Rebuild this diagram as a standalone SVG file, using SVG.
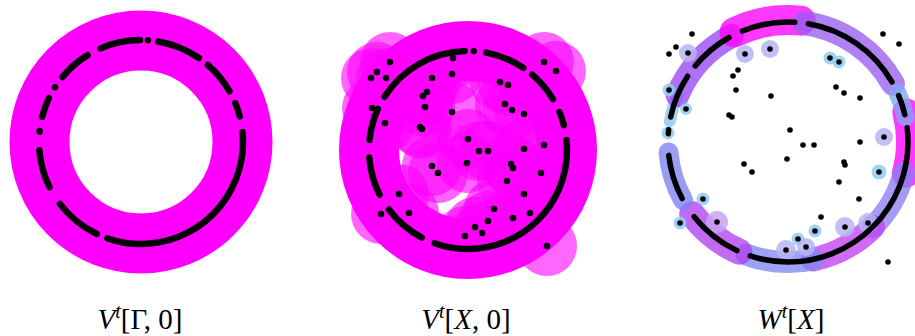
<svg xmlns="http://www.w3.org/2000/svg" width="915" height="336" viewBox="0 0 915 336">
<style>
.ring{fill:none;stroke:#ff00ff;stroke-width:60}
.dash{fill:none;stroke:#000;stroke-linecap:round}
.halo circle{fill:#ff00ff;fill-opacity:0.6}
.pts circle{fill:#000}
.band path{fill:none;stroke-linecap:round;stroke-opacity:0.78}
.hb{fill:#8fcbf2;fill-opacity:0.85}
.hl{fill:#b6b4f2;fill-opacity:0.85}
.lbl{font-family:"Liberation Serif","Times New Roman",serif;font-size:29px;fill:#000}
.it{font-style:italic}
</style>
<rect width="915" height="336" fill="#fff"/>

<g id="panel-gamma">
<circle class="ring" cx="141" cy="142" r="101.5"/>
<path class="dash" d="M243 142 A102 102 0 1 1 39 142 A102 102 0 1 1 243 142" stroke-width="6.5" stroke-dasharray="205.4 11.4 47.9 19.6 38.5 18.9 0.7 14.2 19.8 12.5 0.01 12.5 33.5 14.6 40.6 8 0.01 10.1 44.3 11.4 34 13.2 13.9 16" stroke-dashoffset="11.2"/>
</g>

<g id="panel-x">
<g class="halo">
<circle cx="390" cy="62" r="30"/><circle cx="377" cy="72" r="30"/><circle cx="371" cy="78" r="30"/><circle cx="386" cy="78" r="30"/>
<circle cx="432" cy="78" r="30"/><circle cx="453" cy="58" r="30"/><circle cx="452" cy="74" r="30"/><circle cx="427" cy="92" r="30"/>
<circle cx="423" cy="96" r="30"/><circle cx="372" cy="108" r="30"/><circle cx="425" cy="107" r="30"/><circle cx="452" cy="112" r="30"/>
<circle cx="385" cy="123" r="30"/><circle cx="420" cy="127" r="30"/><circle cx="422" cy="129" r="30"/><circle cx="468" cy="139" r="30"/>
<circle cx="544" cy="62" r="30"/><circle cx="556" cy="71" r="30"/><circle cx="500" cy="82" r="30"/><circle cx="508" cy="85" r="30"/>
<circle cx="505" cy="104" r="30"/><circle cx="512" cy="110" r="30"/><circle cx="524" cy="114" r="30"/><circle cx="479" cy="151" r="30"/>
<circle cx="488" cy="151" r="30"/><circle cx="524" cy="149" r="30"/><circle cx="544" cy="145" r="30"/><circle cx="467" cy="163" r="30"/>
<circle cx="511" cy="164" r="30"/><circle cx="513" cy="168" r="30"/><circle cx="541" cy="173" r="30"/><circle cx="507" cy="181" r="30"/>
<circle cx="524" cy="194" r="30"/><circle cx="494" cy="209" r="30"/><circle cx="513" cy="218" r="30"/><circle cx="530" cy="213" r="30"/>
<circle cx="488" cy="221" r="30"/><circle cx="475" cy="227" r="30"/><circle cx="482" cy="233" r="30"/><circle cx="465" cy="236" r="30"/>
<circle cx="547" cy="246" r="30"/><circle cx="432" cy="166" r="30"/><circle cx="438" cy="173" r="30"/><circle cx="399" cy="194" r="30"/>
<circle cx="381" cy="214" r="30"/><circle cx="409" cy="213" r="30"/>
</g>
<circle class="ring" cx="468" cy="150" r="99"/>
<path class="dash" d="M567 150 A99 99 0 1 1 369 150 A99 99 0 1 1 567 150" stroke-width="6.5" stroke-dasharray="200.3 14 43.4 17.6 38.5 18 32.1 13.7 95.9 9.2 0.01 12.3 40.4 11.2 32.1 14.5 13.7 15.2" stroke-dashoffset="10.9"/>
<g class="pts">
<circle cx="390" cy="62" r="3.3"/><circle cx="377" cy="72" r="3.3"/><circle cx="371" cy="78" r="3.3"/><circle cx="386" cy="78" r="3.3"/>
<circle cx="432" cy="78" r="3.3"/><circle cx="453" cy="58" r="3.3"/><circle cx="452" cy="74" r="3.3"/><circle cx="427" cy="92" r="3.3"/>
<circle cx="423" cy="96" r="3.3"/><circle cx="372" cy="108" r="3.3"/><circle cx="425" cy="107" r="3.3"/><circle cx="452" cy="112" r="3.3"/>
<circle cx="385" cy="123" r="3.3"/><circle cx="420" cy="127" r="3.3"/><circle cx="422" cy="129" r="3.3"/><circle cx="468" cy="139" r="3.3"/>
<circle cx="544" cy="62" r="3.3"/><circle cx="556" cy="71" r="3.3"/><circle cx="500" cy="82" r="3.3"/><circle cx="508" cy="85" r="3.3"/>
<circle cx="505" cy="104" r="3.3"/><circle cx="512" cy="110" r="3.3"/><circle cx="524" cy="114" r="3.3"/><circle cx="479" cy="151" r="3.3"/>
<circle cx="488" cy="151" r="3.3"/><circle cx="524" cy="149" r="3.3"/><circle cx="544" cy="145" r="3.3"/><circle cx="467" cy="163" r="3.3"/>
<circle cx="511" cy="164" r="3.3"/><circle cx="513" cy="168" r="3.3"/><circle cx="541" cy="173" r="3.3"/><circle cx="507" cy="181" r="3.3"/>
<circle cx="524" cy="194" r="3.3"/><circle cx="494" cy="209" r="3.3"/><circle cx="513" cy="218" r="3.3"/><circle cx="530" cy="213" r="3.3"/>
<circle cx="488" cy="221" r="3.3"/><circle cx="475" cy="227" r="3.3"/><circle cx="482" cy="233" r="3.3"/><circle cx="465" cy="236" r="3.3"/>
<circle cx="547" cy="246" r="3.3"/><circle cx="432" cy="166" r="3.3"/><circle cx="438" cy="173" r="3.3"/><circle cx="399" cy="194" r="3.3"/>
<circle cx="381" cy="214" r="3.3"/><circle cx="409" cy="213" r="3.3"/>
</g>
</g>

<g id="panel-w">
<g class="band">
<path d="M906.4 112.5 A122 122 0 0 1 905.8 173.6" stroke="#ff00ff" stroke-width="28"/>
<path d="M903.9 173.1 A120 120 0 0 1 872.9 226.9" stroke="#8c7ff2" stroke-width="22"/>
<path d="M872.9 226.9 A120 120 0 0 1 812.9 259.4" stroke="#c040f2" stroke-width="24"/>
<path d="M812.9 259.4 A120 120 0 0 1 747 254.8" stroke="#8088f2" stroke-width="22"/>
<path d="M739.2 251.6 A120 120 0 0 1 692.2 214.2" stroke="#b040f0" stroke-width="26"/>
<path d="M683.1 200.2 A120 120 0 0 1 668.5 152.5" stroke="#7d80f2" stroke-width="20"/>
<path d="M669.8 121.2 A120 120 0 0 1 677.5 95.1" stroke="#88c4f2" stroke-width="12"/>
<path d="M677.5 95.1 A120 120 0 0 1 731.7 36" stroke="#9a48f2" stroke-width="24"/>
<path d="M734.5 32.3 A122 122 0 0 1 800.7 20.7" stroke="#ff00ff" stroke-width="30"/>
<path d="M804.7 23.2 A120 120 0 0 1 892.9 83.8" stroke="#9a5ef0" stroke-width="24"/>
<path d="M897.6 93.2 A120 120 0 0 1 905.4 117.1" stroke="#80a8f2" stroke-width="18"/>
</g>
<g>
<circle class="hb" cx="669" cy="90" r="6.5"/><circle class="hb" cx="686" cy="109" r="6"/><circle class="hb" cx="668" cy="133" r="6.5"/>
<circle class="hb" cx="830" cy="58" r="6.5"/><circle class="hb" cx="839" cy="62" r="6.5"/><circle class="hb" cx="703" cy="199" r="6.5"/>
<circle class="hb" cx="680" cy="223" r="6.5"/><circle class="hb" cx="815" cy="231" r="6.5"/><circle class="hb" cx="798" cy="239" r="6.5"/>
<circle class="hb" cx="879" cy="172" r="7.5"/>
<circle class="hl" cx="688" cy="53" r="9"/><circle class="hl" cx="745" cy="54" r="9"/><circle class="hl" cx="770" cy="49" r="9"/>
<circle class="hl" cx="884" cy="137" r="9"/><circle class="hl" cx="845" cy="227" r="10"/><circle class="hl" cx="868" cy="223" r="10"/>
<circle class="hl" cx="786" cy="250" r="10"/><circle class="hl" cx="806" cy="247" r="9"/>
<circle cx="717" cy="222" r="11" fill="#c8a4f2" fill-opacity="0.85"/>
</g>
<path class="dash" d="M908 142 A120 120 0 1 1 668 142 A120 120 0 1 1 908 142" stroke-width="5.5" stroke-dasharray="241.5 14.5 54.9 21.8 45.4 21.6 4.2 12.8 44.4 12.8 44.4 14.9 53.6 13.6 105.1 15.3 19.9 13.4" stroke-dashoffset="14.7"/>
<g class="pts">
<circle cx="692" cy="34" r="2.8"/><circle cx="676" cy="47" r="2.8"/><circle cx="669" cy="54" r="2.8"/><circle cx="688" cy="53" r="2.8"/>
<circle cx="745" cy="54" r="2.8"/><circle cx="770" cy="49" r="2.8"/><circle cx="883" cy="34" r="2.8"/><circle cx="899" cy="44" r="2.8"/>
<circle cx="830" cy="58" r="2.8"/><circle cx="839" cy="62" r="2.8"/><circle cx="738" cy="70" r="2.8"/><circle cx="733" cy="76" r="2.8"/>
<circle cx="736" cy="90" r="2.8"/><circle cx="771" cy="96" r="2.8"/><circle cx="836" cy="87" r="2.8"/><circle cx="844" cy="93" r="2.8"/>
<circle cx="860" cy="98" r="2.8"/><circle cx="669" cy="90" r="2.8"/><circle cx="686" cy="109" r="2.8"/><circle cx="729" cy="115" r="2.8"/>
<circle cx="732" cy="117" r="2.8"/><circle cx="790" cy="130" r="2.8"/><circle cx="803" cy="145" r="2.8"/><circle cx="814" cy="145" r="2.8"/>
<circle cx="860" cy="142" r="2.8"/><circle cx="884" cy="137" r="2.8"/><circle cx="787" cy="159" r="2.8"/><circle cx="744" cy="164" r="2.8"/>
<circle cx="752" cy="172" r="2.8"/><circle cx="844" cy="162" r="2.8"/><circle cx="845" cy="165" r="2.8"/><circle cx="879" cy="172" r="2.8"/>
<circle cx="839" cy="182" r="2.8"/><circle cx="703" cy="199" r="2.8"/><circle cx="859" cy="199" r="2.8"/><circle cx="821" cy="217" r="2.8"/>
<circle cx="680" cy="223" r="2.8"/><circle cx="717" cy="222" r="2.8"/><circle cx="845" cy="227" r="2.8"/><circle cx="868" cy="223" r="2.8"/>
<circle cx="815" cy="231" r="2.8"/><circle cx="798" cy="239" r="2.8"/><circle cx="786" cy="250" r="2.8"/><circle cx="806" cy="247" r="2.8"/>
<circle cx="888" cy="262" r="2.8"/>
</g>
</g>

<g id="labels">
<text class="lbl" x="140" y="329" text-anchor="middle"><tspan class="it">V</tspan><tspan class="it" font-size="20" dy="-11">t</tspan><tspan dy="11">[Γ, 0]</tspan></text>
<text class="lbl" x="466" y="329" text-anchor="middle"><tspan class="it">V</tspan><tspan class="it" font-size="20" dy="-11">t</tspan><tspan dy="11">[</tspan><tspan class="it">X</tspan><tspan>, 0]</tspan></text>
<text class="lbl" x="791" y="329" text-anchor="middle"><tspan class="it">W</tspan><tspan class="it" font-size="20" dy="-11">t</tspan><tspan dy="11">[</tspan><tspan class="it">X</tspan><tspan>]</tspan></text>
</g>
</svg>
